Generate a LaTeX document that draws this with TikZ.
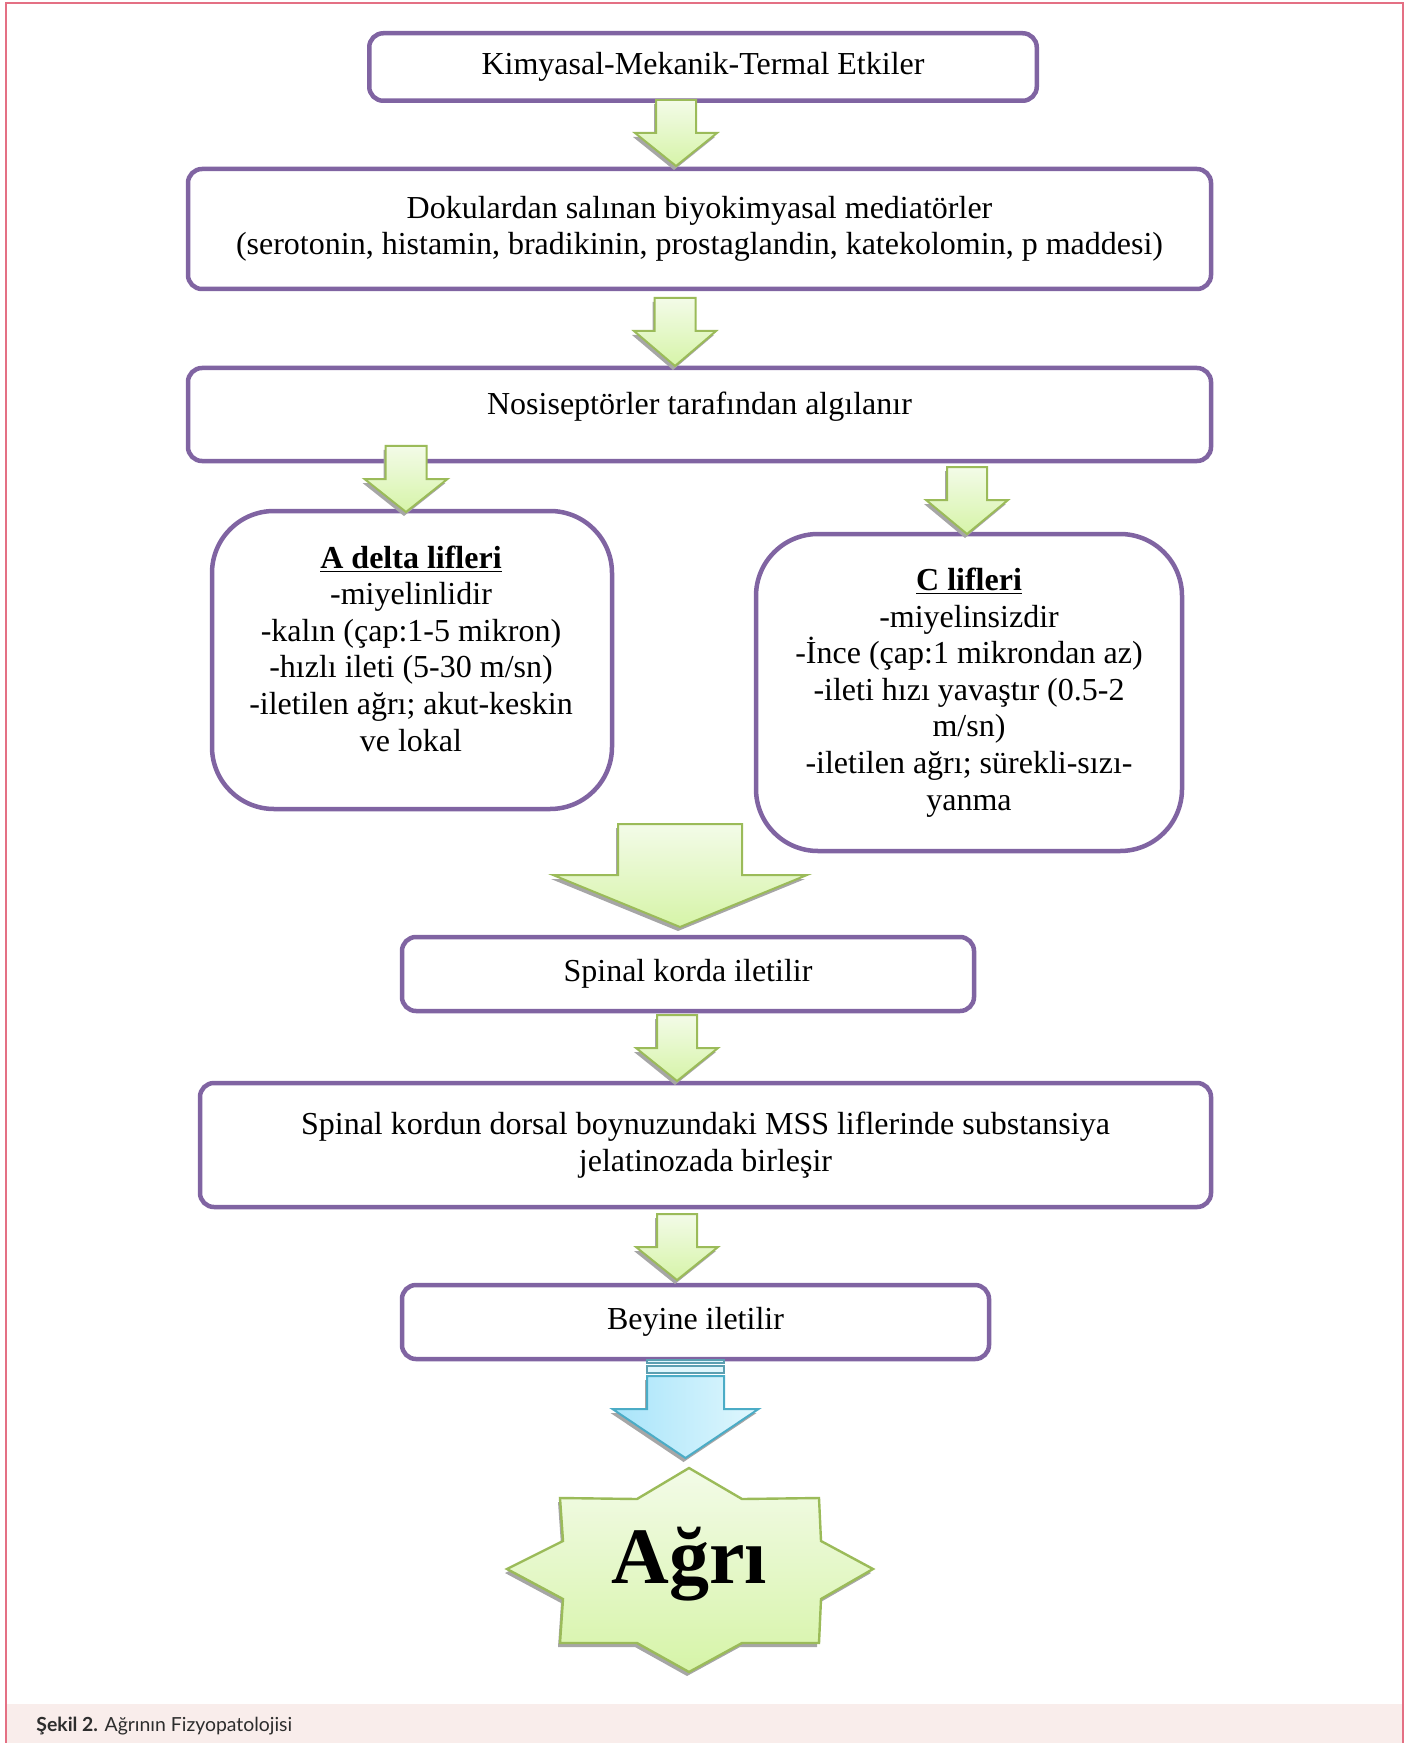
\documentclass[tikz,border=0pt]{standalone}
\usepackage{fontspec}
\setmainfont{Liberation Serif}
\newfontfamily\capfont{Lato}
\usetikzlibrary{calc}
\definecolor{boxpurple}{RGB}{128,100,162}
\definecolor{arrgreen}{RGB}{155,187,89}
\definecolor{arrtop}{RGB}{243,251,232}
\definecolor{arrbot}{RGB}{214,244,168}
\definecolor{arrblue}{RGB}{75,172,198}
\definecolor{bluedark}{RGB}{168,228,250}
\definecolor{bluelight}{RGB}{224,247,253}
\definecolor{framepink}{RGB}{228,112,132}
\definecolor{capband}{RGB}{249,237,235}
\definecolor{captext}{RGB}{45,45,45}
\tikzset{
  stepbox/.style={draw=boxpurple, line width=2.25pt, rounded corners=7pt, fill=white,
    inner sep=0pt, align=center, font=\fontsize{16}{18.3}\selectfont},
  fibrebox/.style={stepbox, rounded corners=31pt},
  boxtext/.style={inner sep=0pt, align=center, font=\fontsize{16}{18.3}\selectfont},
  dropshade/.style={preaction={fill=black!35, draw=none, transform canvas={xshift=-1pt, yshift=-2pt}}},
  greenarrow/.style={draw=arrgreen, line width=1pt, top color=arrtop, bottom color=arrbot, dropshade},
  bluearrow/.style={draw=arrblue, line width=1pt, left color=bluedark, right color=bluelight, dropshade},
  bluestripe/.style={draw=arrblue!70!gray, line width=0.8pt, fill=bluelight}
}
% down block arrow: style, top centre, half shaft, half head, shaft length, head length
\newcommand{\dnblock}[6]{%
  \path[#1] ($(#2)+(-#3,0)$) -- ($(#2)+(#3,0)$) -- ($(#2)+(#3,#5)$) -- ($(#2)+(#4,#5)$)
    -- ($(#2)+(0,#5+#6)$) -- ($(#2)+(-#4,#5)$) -- ($(#2)+(-#3,#5)$) -- cycle;}
\begin{document}
\begin{tikzpicture}[x=0.5pt, y=-0.5pt]
  \useasboundingbox (0,0) rectangle (1415,1743);
  % page frame and caption
  \fill[capband] (7,1704) rectangle (1403,1743);
  \draw[framepink, line width=1pt] (6,1743) -- (6,3) -- (1403,3) -- (1403,1743);
  \node[anchor=base west, inner sep=0pt, text=captext, font=\capfont\fontsize{9.7}{11}\selectfont] (cap) at (36,1731) {\textbf{Şekil 2.} Ağrının Fizyopatolojisi};

  % boxes
  \node[stepbox, minimum width=333.75pt, minimum height=33.75pt] (kme) at (703,67) {Kimyasal-Mekanik-Termal Etkiler};
  \node[stepbox, minimum width=511.5pt, minimum height=60pt] (med) at (699.5,229) {Dokulardan salınan biyokimyasal mediatörler\\(serotonin, histamin, bradikinin, prostaglandin, katekolomin, p maddesi)};
  \node[stepbox, minimum width=511.5pt, minimum height=46.5pt] (noci) at (699.5,414.5) {};
  \node[boxtext] (nocit) at (699.5,407) {Nosiseptörler tarafından algılanır};
  \node[fibrebox, minimum width=200pt, minimum height=149pt] (adel) at (412,660) {};
  \node[boxtext] (adelt) at (411,648.5) {\underline{\textbf{A delta lifleri}}\\-miyelinlidir\\-kalın (çap:1-5 mikron)\\-hızlı ileti (5-30 m/sn)\\-iletilen ağrı; akut-keskin\\ve lokal};
  \node[fibrebox, minimum width=213pt, minimum height=158.5pt] (clif) at (969,692.5) {\underline{\textbf{C lifleri}}\\-miyelinsizdir\\-İnce (çap:1 mikrondan az)\\-ileti hızı yavaştır (0.5-2\\m/sn)\\-iletilen ağrı; sürekli-sızı-\\yanma};
  \node[stepbox, minimum width=286pt, minimum height=37pt] (spin) at (688,974) {Spinal korda iletilir};
  \node[stepbox, minimum width=505.5pt, minimum height=62pt] (mss) at (705.5,1145) {Spinal kordun dorsal boynuzundaki MSS liflerinde substansiya\\jelatinozada birleşir};
  \node[stepbox, minimum width=293.5pt, minimum height=37pt] (beyin) at (695.5,1322) {Beyine iletilir};

  % block arrows
  \coordinate (a1) at (676,100);
  \coordinate (a2) at (675,298);
  \coordinate (a3) at (406,446);
  \coordinate (a4) at (967,467);
  \coordinate (a5) at (680,824);
  \coordinate (a6) at (677,1015);
  \coordinate (a7) at (677,1214);
  \coordinate (a8) at (685.5,1376);
  \dnblock{greenarrow}{a1}{20}{41}{33}{33}
  \dnblock{greenarrow}{a2}{20.5}{41}{33}{35}
  \dnblock{greenarrow}{a3}{20.5}{41.5}{33}{33}
  \dnblock{greenarrow}{a4}{20}{41}{33}{34}
  \dnblock{greenarrow}{a5}{62}{127}{51}{52}
  \dnblock{greenarrow}{a6}{20}{41}{33}{33}
  \dnblock{greenarrow}{a7}{20}{41}{33}{33}
  \draw[bluestripe] (647,1360) rectangle (724,1363);
  \draw[bluestripe] (647,1366) rectangle (724,1373);
  \dnblock{bluearrow}{a8}{38.5}{73}{33}{49}

  % star
  \path[greenarrow, line width=1.2pt] (689,1468) -- (742,1499) -- (819,1498) -- (821,1541) -- (873,1569)
    -- (821,1599) -- (819,1643) -- (742,1643) -- (689,1672) -- (637,1643) -- (560,1643)
    -- (563,1599) -- (507,1569) -- (563,1541) -- (560,1498) -- (637,1499) -- cycle;
  \node[anchor=base, inner sep=0pt, font=\fontsize{40}{48}\selectfont\bfseries] (agri) at (689,1583) {Ağrı};
\end{tikzpicture}
\end{document}
